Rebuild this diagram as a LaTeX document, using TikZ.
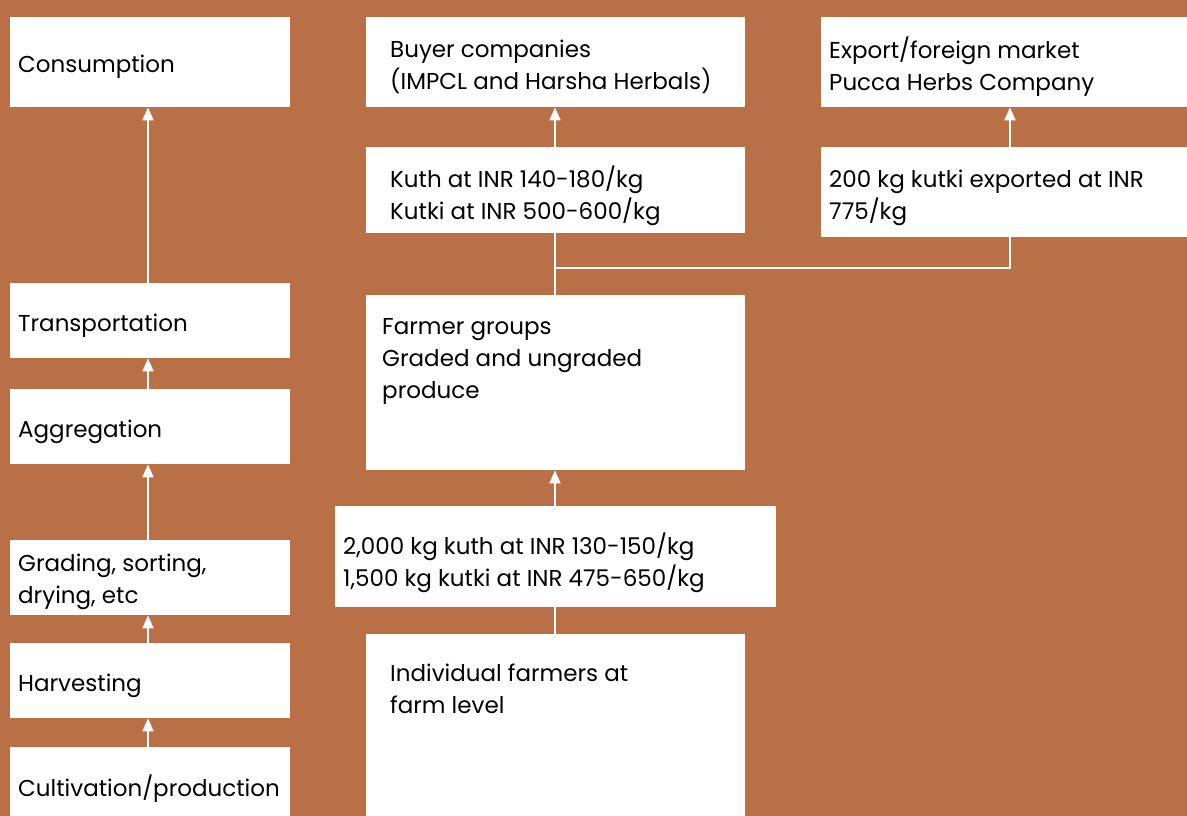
\documentclass[tikz,border=0pt]{standalone}
\usepackage{fontspec}
\setmainfont{Poppins}
\usetikzlibrary{arrows.meta}
\definecolor{bg}{RGB}{185,112,70}
\tikzset{
  box/.style={fill=white, draw=none, rectangle, anchor=north west, inner sep=0pt},
  txt/.style={anchor=west, align=left, inner sep=0pt, text=black, font=\fontsize{23}{32}\selectfont},
  arr/.style={draw=white, line width=2pt, -{Triangle[width=11pt,length=13pt]}},
  ln/.style={draw=white, line width=2pt},
}
\newcommand{\bx}[5]{\node[box, minimum width=#4pt, minimum height=#5pt] (#1) at (#2,#3) {};}
\begin{document}
\begin{tikzpicture}[x=1pt,y=-1pt]
\fill[bg] (0,0) rectangle (1187,816);
\useasboundingbox (0,0) rectangle (1187,816);
\clip (0,0) rectangle (1187,816);
% left column
\bx{cons}{10}{17}{280}{90}
\bx{trans}{10}{283}{280}{75}
\bx{aggr}{10}{389}{280}{75}
\bx{grad}{10}{540}{280}{75}
\bx{harv}{10}{643}{280}{75}
\bx{cult}{10}{747}{280}{90}
% middle column
\bx{buyer}{366}{17}{379}{90}
\bx{kuth}{366}{147}{379}{86}
\bx{farm}{366}{295}{379}{175}
\bx{qty}{335}{506}{441}{101}
\bx{indiv}{366}{634}{379}{200}
% right column
\bx{export}{821}{17}{380}{90}
\bx{exp200}{821}{147}{380}{90}
% texts
\node[txt] at (18,67) {Consumption};
\node[txt] at (18,326) {Transportation};
\node[txt] at (18,432) {Aggregation};
\node[txt] at (18,582) {Grading, sorting,\\drying, etc};
\node[txt] at (18,686) {Harvesting};
\node[txt] at (18,789) {Cultivation/production};
\node[txt] at (390,67) {Buyer companies\\(IMPCL and Harsha Herbals)};
\node[txt] at (390,196) {Kuth at INR 140-180/kg\\Kutki at INR 500-600/kg};
\node[txt] at (382,361) {Farmer groups\\Graded and ungraded\\produce};
\node[txt] at (343,563) {2,000 kg kuth at INR 130-150/kg\\1,500 kg kutki at INR 475-650/kg};
\node[txt] at (390,689) {Individual farmers at\\farm level};
\node[txt] at (829,67) {Export/foreign market\\Pucca Herbs Company};
\node[txt] at (829,198) {200 kg kutki exported at INR\\775/kg};
% connectors
\draw[arr] (cult.north -| 148,0) -- (harv.south -| 148,0);
\draw[arr] (harv.north -| 148,0) -- (grad.south -| 148,0);
\draw[arr] (grad.north -| 148,0) -- (aggr.south -| 148,0);
\draw[arr] (aggr.north -| 148,0) -- (trans.south -| 148,0);
\draw[arr] (trans.north -| 148,0) -- (cons.south -| 148,0);
\draw[ln] (indiv.north -| 555,0) -- (qty.south -| 555,0);
\draw[arr] (qty.north -| 555,0) -- (farm.south -| 555,0);
\draw[ln] (farm.north -| 555,0) -- (kuth.south -| 555,0);
\coordinate (j1) at (555,268);
\coordinate (j2) at (1010,268);
\draw[ln] (j1) -- (j2) -- (exp200.south -| j2);
\draw[arr] (kuth.north -| 555,0) -- (buyer.south -| 555,0);
\draw[arr] (exp200.north -| 1010,0) -- (export.south -| 1010,0);
\end{tikzpicture}
\end{document}
